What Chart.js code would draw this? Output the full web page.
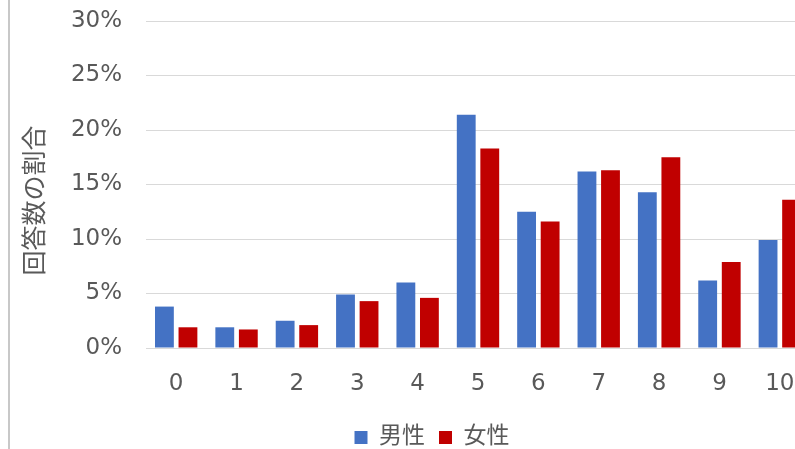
<!DOCTYPE html>
<html>
<head>
<meta charset="utf-8">
<script src="https://cdn.jsdelivr.net/npm/chart.js@4"></script>
<style>
  html, body { margin: 0; padding: 0; overflow: hidden; background: #fff; }
  #box { position: absolute; left: 8px; top: 0; width: 844px; height: 459px; border-left: 2px solid #c8c8c8; }
</style>
</head>
<body>
<div id="box"><canvas id="chart" width="844" height="459"></canvas></div>
<script>
  // scores 0-10 and share of answers (%)
  const categories = ['0', '1', '2', '3', '4', '5', '6', '7', '8', '9', '10'];
  const maleValues = [3.8, 1.9, 2.5, 4.9, 6.0, 21.4, 12.5, 16.2, 14.3, 6.2, 9.9];
  const femaleValues = [1.9, 1.7, 2.1, 4.3, 4.6, 18.3, 11.6, 16.3, 17.5, 7.9, 13.6];
  const yTicks = [0, 5, 10, 15, 20, 25, 30];

  const fontFamily = "'DejaVu Sans', 'Noto Sans CJK JP', sans-serif";
  const textColor = '#595959';

  // legend is centred on the whole chart box, not only the left part
  const legendShift = {
    id: 'legendShift',
    afterLayout(chart) {
      chart.legend.left += 22;
      chart.legend.right += 22;
    },
  };

  const ctx = document.getElementById('chart').getContext('2d');
  const myChart = new Chart(ctx, {
    type: 'bar',
    data: {
      labels: categories,
      datasets: [{
        label: '男性',
        data: maleValues,
        backgroundColor: '#4472C4',
      }, {
        label: '女性',
        data: femaleValues,
        backgroundColor: '#C00000',
      }],
    },
    plugins: [legendShift],
    options: {
      responsive: false,
      animation: false,
      devicePixelRatio: 1,
      layout: { padding: { top: 21, right: 44, left: 0, bottom: 0 } },
      datasets: {
        bar: { categoryPercentage: 0.78, barPercentage: 0.8 },
      },
      plugins: {
        tooltip: { enabled: false },
        legend: {
          position: 'bottom',
          labels: {
            color: textColor,
            font: { family: fontFamily, size: 23 },
            boxWidth: 13,
            boxHeight: 13,
            padding: 14,
          },
        },
      },
      scales: {
        x: {
          grid: { display: false, drawTicks: false },
          border: { color: '#d9d9d9', width: 1 },
          ticks: {
            color: textColor,
            font: { family: fontFamily, size: 23 },
            padding: 22,
            maxRotation: 0,
          },
          afterFit: s => { s.height = 64; },
        },
        y: {
          min: 0,
          max: 30,
          afterBuildTicks: s => { s.ticks = yTicks.map(v => ({ value: v })); },
          grid: { color: '#d9d9d9', lineWidth: 1, drawTicks: false },
          border: { display: false },
          ticks: {
            color: textColor,
            font: { family: fontFamily, size: 23 },
            padding: 24,
            callback: v => v + '%',
          },
          title: {
            display: true,
            text: '回答数の割合    ',
            color: textColor,
            font: { family: fontFamily, size: 25 },
            padding: { top: 11, bottom: 0 },
          },
          afterFit: s => {
            s.width = 136;
            s.paddingTop = 0;
            s.paddingBottom = 0;
          },
        },
      },
    },
  });
</script>
</body>
</html>
